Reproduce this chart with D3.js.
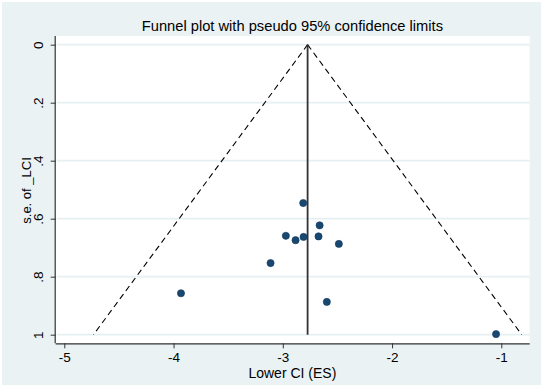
<!DOCTYPE html>
<html>
<head>
<meta charset="utf-8">
<script src="https://cdn.jsdelivr.net/npm/d3@7"></script>
<style>
  html, body { margin: 0; padding: 0; background: #ffffff; }
  svg { display: block; }
  text { font-family: "Liberation Sans", Arial, Helvetica, sans-serif; fill: #000; }
</style>
</head>
<body>
<svg id="chart" width="546" height="389"></svg>
<script>
// ---- data ----
const studyES = [-2.813, -2.663, -2.972, -2.883, -2.810, -2.673, -2.487, -3.112, -3.932, -2.597, -1.048];
const studySE = [0.546, 0.623, 0.659, 0.674, 0.663, 0.661, 0.687, 0.753, 0.857, 0.887, 0.998];
const pooledES = -2.773;
const seRange = [0, 1];
const z95 = 1.96;
const xTicks = [-5, -4, -3, -2, -1];
const xTickLabels = ["-5", "-4", "-3", "-2", "-1"];
const yTicks = [0, 0.2, 0.4, 0.6, 0.8, 1];
const yTickLabels = ["0", ".2", ".4", ".6", ".8", "1"];
const titleText = "Funnel plot with pseudo 95% confidence limits";
const xTitle = "Lower CI (ES)";
const yTitle = "s.e. of _LCI";

const svg = d3.select("#chart");
const W = 546, H = 389;

// outer background
svg.append("rect").attr("x", 0).attr("y", 0).attr("width", W).attr("height", H).attr("fill", "#ffffff");
svg.append("rect").attr("x", 2).attr("y", 2).attr("width", 539).attr("height", 383).attr("fill", "#eaf2f3");

// plot region
const region = { left: 55.7, right: 529.7, top: 36, bottom: 343.3 };
svg.append("rect")
  .attr("x", region.left).attr("y", region.top)
  .attr("width", region.right - region.left).attr("height", region.bottom - region.top)
  .attr("fill", "#ffffff");

const x = d3.scaleLinear().domain([-5, -1]).range([64.3, 501.3]);
const y = d3.scaleLinear().domain([0, 1]).range([44.7, 334.7]);

// gridlines
svg.append("g").selectAll("line").data(yTicks).join("line")
  .attr("x1", region.left + 1).attr("x2", region.right)
  .attr("y1", d => y(d)).attr("y2", d => y(d))
  .attr("stroke", "#e6eff1").attr("stroke-width", 1.8);

// funnel (pseudo 95% limits)
const lineGen = d3.line().x(d => x(d[0])).y(d => y(d[1]));
const leftLimit = seRange.map(s => [pooledES - z95 * s, s]);
const rightLimit = seRange.map(s => [pooledES + z95 * s, s]);
[leftLimit, rightLimit].forEach(pts => {
  svg.append("path").attr("d", lineGen(pts))
    .attr("fill", "none").attr("stroke", "#000").attr("stroke-width", 1.1)
    .attr("stroke-dasharray", "6,4");
});

// pooled estimate line
svg.append("path").attr("d", lineGen(seRange.map(s => [pooledES, s])))
  .attr("fill", "none").attr("stroke", "#333").attr("stroke-width", 1.8);

// points
svg.append("g").selectAll("circle").data(studyES.map((e, i) => [e, studySE[i]])).join("circle")
  .attr("cx", d => x(d[0])).attr("cy", d => y(d[1])).attr("r", 3.6)
  .attr("fill", "#1a476f").attr("stroke", "#0f3a60").attr("stroke-width", 0.6);

// axes
const xAxis = d3.axisBottom(x).tickValues(xTicks).tickSize(5).tickPadding(4).tickFormat((d, i) => xTickLabels[i]);
const gx = svg.append("g").attr("transform", `translate(0,${region.bottom})`).call(xAxis);
gx.select(".domain").attr("d", `M${region.left},0.5H${region.right}`).attr("stroke", "#333").attr("stroke-width", 1.2);
gx.selectAll(".tick line").attr("stroke", "#333");
gx.selectAll(".tick text").attr("font-size", 13.5).attr("font-family", "Liberation Sans, Arial, sans-serif").attr("fill", "#000");

const yAxis = d3.axisLeft(y).tickValues(yTicks).tickSize(5).tickPadding(3).tickFormat((d, i) => yTickLabels[i]);
const gy = svg.append("g").attr("transform", `translate(${region.left},0)`).call(yAxis);
gy.select(".domain").attr("d", `M-0.5,${region.top}V${region.bottom}`).attr("stroke", "#333").attr("stroke-width", 1.2);
gy.selectAll(".tick line").attr("stroke", "#333");
gy.selectAll(".tick text")
  .attr("font-size", 13.5).attr("font-family", "Liberation Sans, Arial, sans-serif").attr("fill", "#000")
  .attr("x", 0).attr("dy", null)
  .attr("text-anchor", "middle")
  .attr("transform", "translate(-16,0) rotate(-90)")
  .attr("dominant-baseline", "middle");

// titles
svg.append("text").attr("x", 292.4).attr("y", 31).attr("text-anchor", "middle")
  .attr("font-size", 14.7).text(titleText);
svg.append("text").attr("x", 292.4).attr("y", 378).attr("text-anchor", "middle")
  .attr("font-size", 14).text(xTitle);
svg.append("text").attr("transform", "translate(31,190.5) rotate(-90)").attr("text-anchor", "middle")
  .attr("font-size", 13).text(yTitle);
</script>
</body>
</html>
